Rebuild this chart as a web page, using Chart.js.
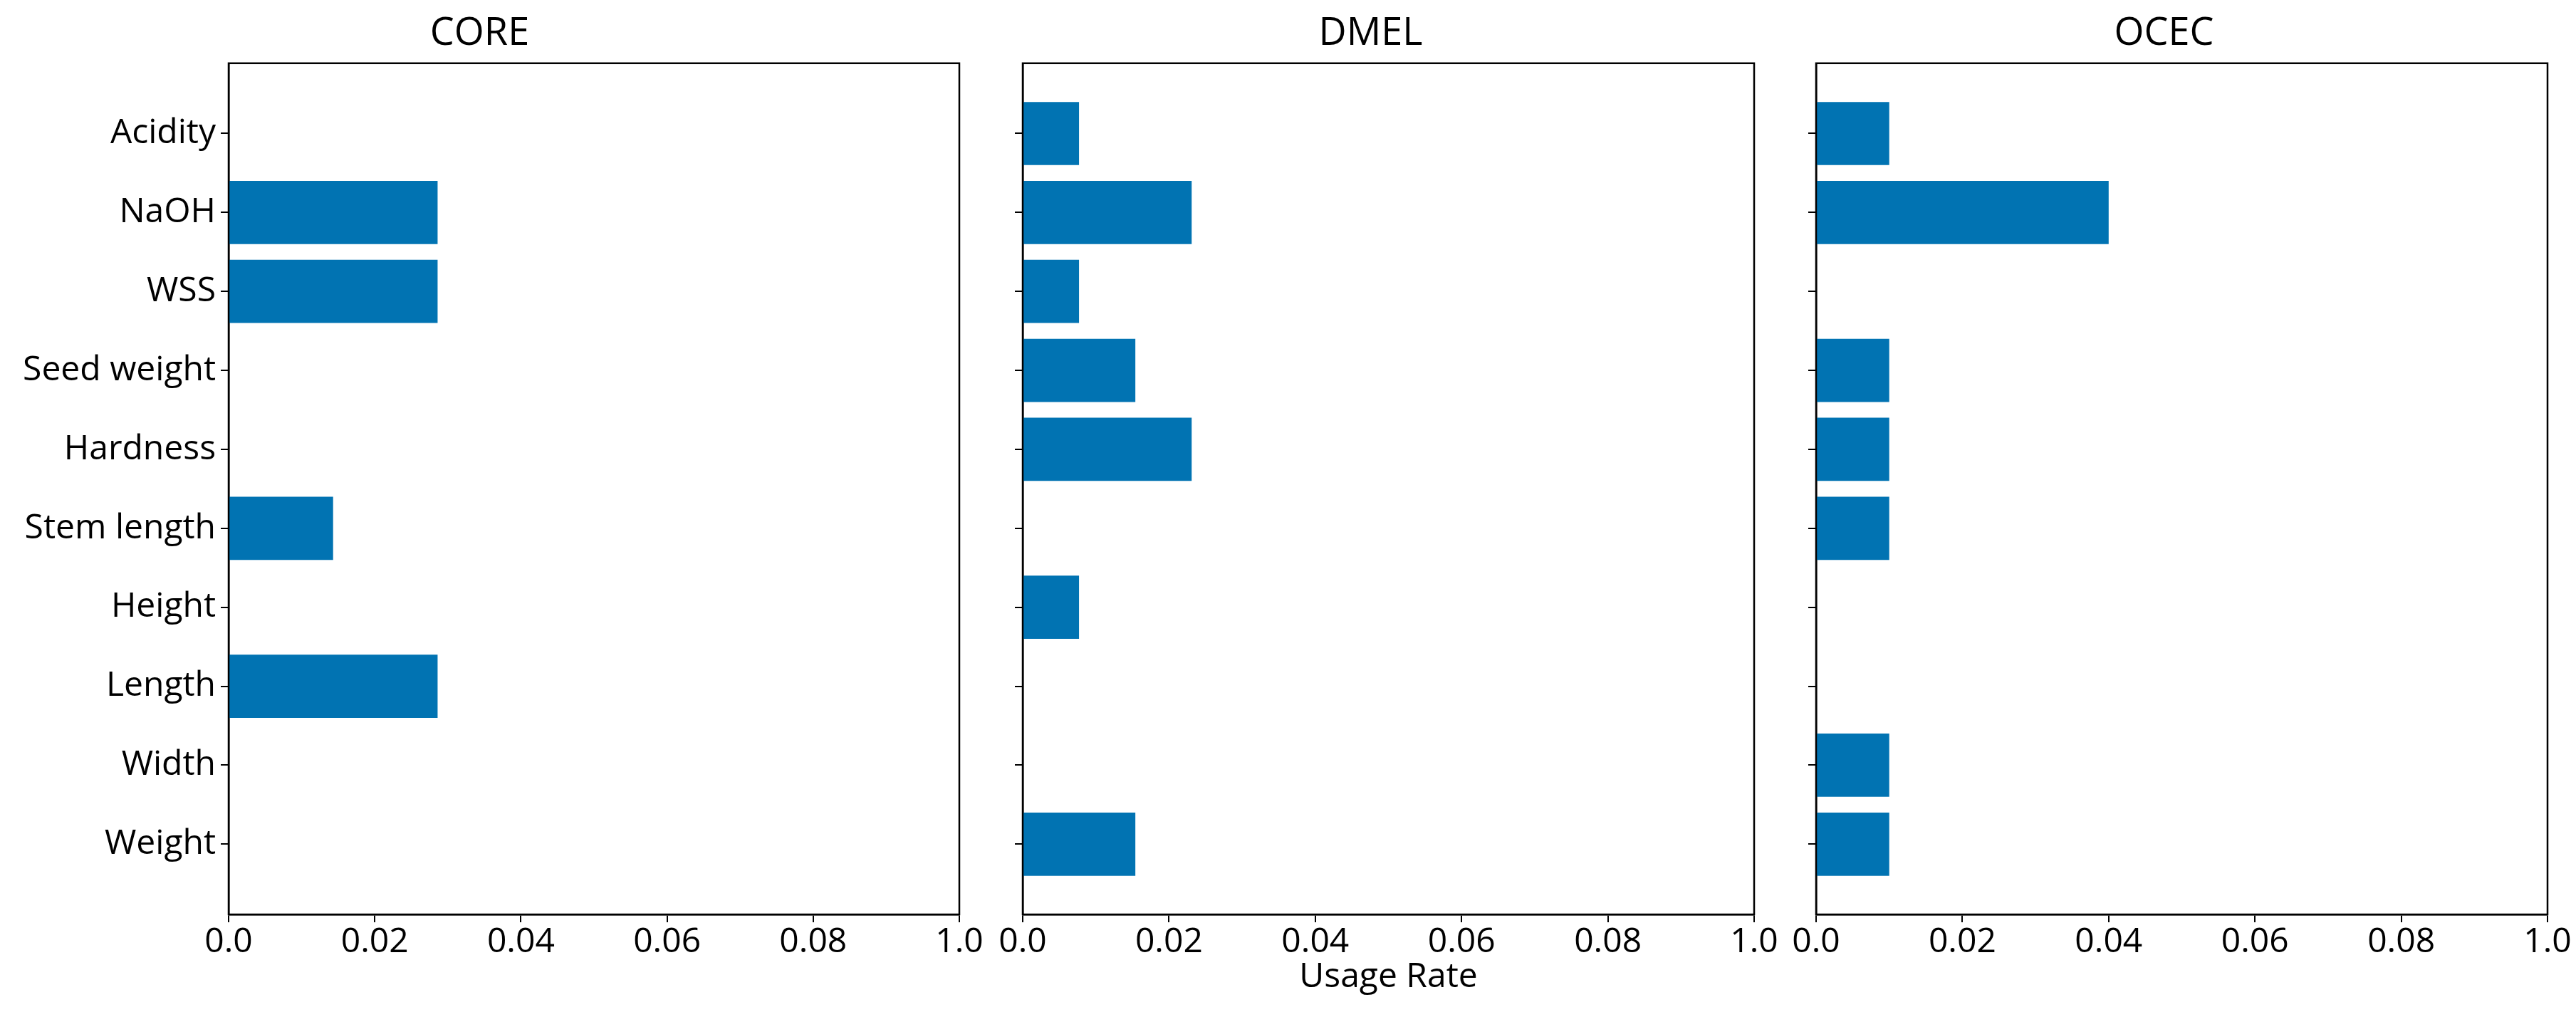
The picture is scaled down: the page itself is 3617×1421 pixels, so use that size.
<!DOCTYPE html>
<html>
<head>
<meta charset="utf-8">
<script src="https://cdn.jsdelivr.net/npm/chart.js@4"></script>
<style>
  html, body { margin: 0; padding: 0; background: #fff; }
  body { width: 3617px; height: 1421px; position: relative; overflow: hidden; }
  canvas { position: absolute; top: 0; }
</style>
</head>
<body>
<canvas id="coreChart" width="1387" height="1421" style="left:0px"></canvas>
<canvas id="dmelChart" width="1117" height="1421" style="left:1386px"></canvas>
<canvas id="ocecChart" width="1117" height="1421" style="left:2500px"></canvas>
<script>
// traits, top to bottom
const traits = ['Acidity', 'NaOH', 'WSS', 'Seed weight', 'Hardness',
    'Stem length', 'Height', 'Length', 'Width', 'Weight'];

// usage rate per trait
const core = [0, 0.0286, 0.0286, 0, 0, 0.0143, 0, 0.0286, 0, 0];
const dmel = [0.0077, 0.0231, 0.0077, 0.0154, 0.0231, 0, 0.0077, 0, 0, 0.0154];
const ocec = [0.01, 0.04, 0, 0.01, 0.01, 0.01, 0, 0, 0.01, 0.01];

const xTicks = [0, 0.02, 0.04, 0.06, 0.08, 0.1];
const xTickLabels = ['0.0', '0.02', '0.04', '0.06', '0.08', '1.0'];

const barColor = '#0173b2';
const fontFamily = '"Open Sans", "Noto Sans", sans-serif';

Chart.defaults.color = '#000';
Chart.defaults.font.family = fontFamily;

// frame round the plot area (top and right spines too)
const framePlugin = {
    id: 'frame',
    afterDraw(chart) {
        const {ctx, chartArea: a} = chart;
        ctx.save();
        ctx.strokeStyle = '#000';
        ctx.lineWidth = 2.5;
        ctx.strokeRect(a.left, a.top, a.right - a.left, a.bottom - a.top);
        ctx.restore();
    }
};

function makePanel(id, title, values, showLabels, xTitle) {
    const ctx = document.querySelector('#' + id).getContext('2d');
    return new Chart(ctx, {
        type: 'bar',
        data: {
            datasets: [{
                label: title,
                data: values.map((v, i) => ({x: v, y: i})),
                backgroundColor: barColor,
                borderWidth: 0,
                categoryPercentage: 1,
                barPercentage: 0.8,
            }]
        },
        options: {
            indexAxis: 'y',
            responsive: false,
            animation: false,
            devicePixelRatio: 1,
            layout: {padding: {left: 0, right: 40, top: 0, bottom: 0}},
            plugins: {
                legend: {display: false},
                tooltip: {enabled: false},
                title: {
                    display: true,
                    text: title,
                    color: '#000',
                    font: {size: 54, weight: 'normal', family: fontFamily},
                    padding: {top: 15, bottom: 9},
                },
            },
            scales: {
                x: {
                    type: 'linear',
                    min: 0,
                    max: 0.1,
                    afterBuildTicks: s => { s.ticks = xTicks.map(v => ({value: v})); },
                    afterFit: s => { s.height = 137; },
                    ticks: {
                        callback: (v, i) => xTickLabels[i],
                        font: {size: 48},
                        color: '#000',
                        padding: 0,
                        maxRotation: 0,
                    },
                    grid: {
                        drawOnChartArea: false,
                        drawTicks: true,
                        tickLength: 11,
                        color: '#000',
                        lineWidth: 2,
                    },
                    border: {display: true, color: '#000', width: 2.5},
                    title: {
                        display: !!xTitle,
                        text: xTitle || '',
                        font: {size: 48},
                        color: '#000',
                        padding: {top: 0, bottom: 20},
                    },
                },
                y: {
                    type: 'linear',
                    min: -0.89,
                    max: 9.89,
                    reverse: true,
                    offset: false,
                    afterBuildTicks: s => { s.ticks = traits.map((t, i) => ({value: i})); },
                    afterFit: s => { s.width = showLabels ? 321 : 50; },
                    ticks: {
                        display: showLabels,
                        callback: v => traits[v],
                        font: {size: 48},
                        color: '#000',
                        padding: 7,
                    },
                    grid: {
                        offset: false,
                        drawOnChartArea: false,
                        drawTicks: true,
                        tickLength: 11,
                        color: '#000',
                        lineWidth: 2,
                    },
                    border: {display: true, color: '#000', width: 2.5},
                },
            },
        },
        plugins: [framePlugin],
    });
}

makePanel('coreChart', 'CORE', core, true, null);
makePanel('dmelChart', 'DMEL', dmel, false, 'Usage Rate');
makePanel('ocecChart', 'OCEC', ocec, false, null);
</script>
</body>
</html>
